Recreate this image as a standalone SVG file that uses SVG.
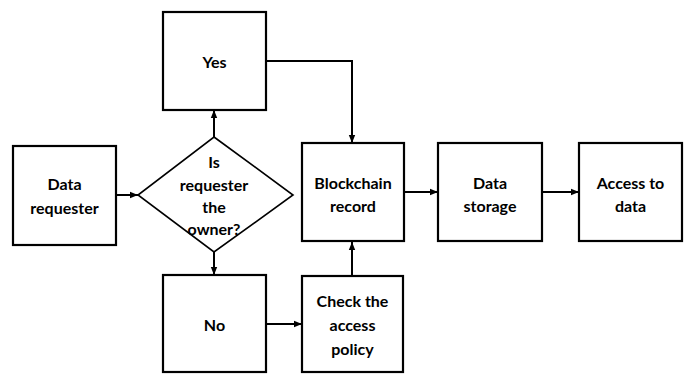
<svg xmlns="http://www.w3.org/2000/svg" width="688" height="374" viewBox="0 0 688 374">
  <style>
    .box { fill: #ffffff; stroke: #000000; stroke-width: 2.2; }
    .dia { fill: #ffffff; stroke: #000000; stroke-width: 1.6; }
    .lbl { font-family: Lato, "Open Sans", "Liberation Sans", sans-serif; font-weight: bold; font-size: 16px; fill: #000000; text-anchor: middle; }
    .edge { fill: none; stroke: #000000; stroke-width: 2; marker-end: url(#arrow); }
  </style>
  <defs>
    <marker id="arrow" viewBox="0 0 8 8" refX="8" refY="4" markerWidth="8" markerHeight="8" markerUnits="userSpaceOnUse" orient="auto">
      <path d="M0,0.8 L8,4 L0,7.2 Z" fill="#000000"/>
    </marker>
  </defs>
  <rect width="688" height="374" fill="#ffffff"/>

  <g id="connectors">
    <path class="edge" d="M116,195 H138"/>
    <path class="edge" d="M214,137 V110"/>
    <path class="edge" d="M214,252 V275"/>
    <path class="edge" d="M266,61 H352 V143"/>
    <path class="edge" d="M266,324 H302"/>
    <path class="edge" d="M352,276 V242"/>
    <path class="edge" d="M404,192 H438"/>
    <path class="edge" d="M542,192 H579"/>
  </g>

  <g id="data-requester">
    <rect class="box" x="13" y="146" width="103" height="99"/>
    <text class="lbl" x="64.5" y="190">Data</text>
    <text class="lbl" x="64.5" y="214">requester</text>
  </g>

  <g id="owner-check">
    <polygon class="dia" points="214,137 293,195 214,252 138,195"/>
    <text class="lbl" x="214" y="168">Is</text>
    <text class="lbl" x="214" y="191">requester</text>
    <text class="lbl" x="214" y="213">the</text>
    <text class="lbl" x="214" y="235">owner?</text>
  </g>

  <g id="yes">
    <rect class="box" x="163" y="12" width="103" height="98"/>
    <text class="lbl" x="214.5" y="68">Yes</text>
  </g>

  <g id="no">
    <rect class="box" x="163" y="275" width="103" height="97"/>
    <text class="lbl" x="214.5" y="331">No</text>
  </g>

  <g id="check-policy">
    <rect class="box" x="302" y="276" width="101" height="96"/>
    <text class="lbl" x="352.5" y="307">Check the</text>
    <text class="lbl" x="352.5" y="331">access</text>
    <text class="lbl" x="352.5" y="355">policy</text>
  </g>

  <g id="blockchain-record">
    <rect class="box" x="302" y="143" width="102" height="98"/>
    <text class="lbl" x="353" y="189">Blockchain</text>
    <text class="lbl" x="353" y="212">record</text>
  </g>

  <g id="data-storage">
    <rect class="box" x="438" y="143" width="104" height="98"/>
    <text class="lbl" x="490" y="189">Data</text>
    <text class="lbl" x="490" y="212">storage</text>
  </g>

  <g id="access-data">
    <rect class="box" x="579" y="143" width="103" height="98"/>
    <text class="lbl" x="630.5" y="189">Access to</text>
    <text class="lbl" x="630.5" y="212">data</text>
  </g>
</svg>
